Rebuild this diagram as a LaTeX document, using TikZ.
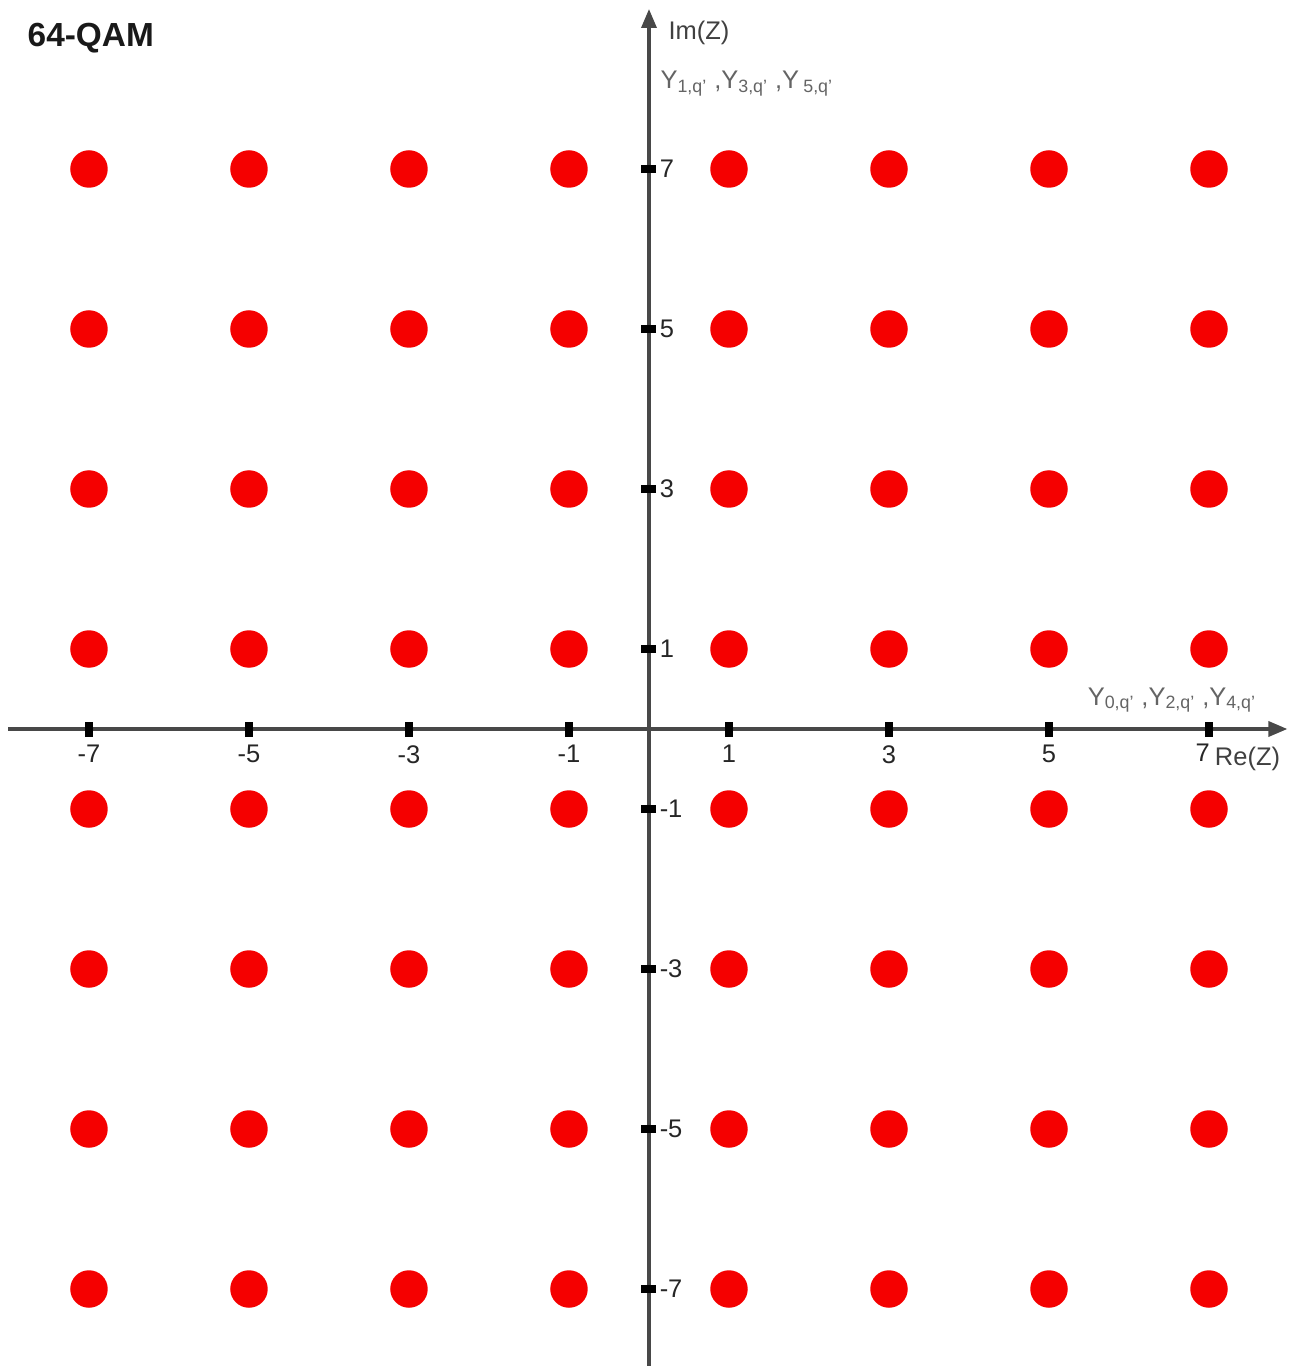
\documentclass[tikz,border=0pt]{standalone}
\usepackage{fontspec}
\setmainfont{Liberation Sans}
\usepackage{xcolor}
\usetikzlibrary{arrows.meta}
\definecolor{axisgray}{HTML}{484848}
\definecolor{labelgray}{HTML}{646464}
\definecolor{dotred}{HTML}{F50000}
\tikzset{
  axis/.style={draw=axisgray, line width=2pt, -{Triangle[length=0.38cm, width=0.30cm]}},
  dot/.style={circle, fill=dotred, draw=none, minimum size=0.75cm, inner sep=0pt},
  xtick/.style={rectangle, fill=black, minimum width=0.15cm, minimum height=0.3cm, inner sep=0pt},
  ytick/.style={rectangle, fill=black, minimum width=0.3cm, minimum height=0.15cm, inner sep=0pt},
  ticklabel/.style={font=\fontsize{14.5pt}{16pt}\selectfont, text=black!85, inner sep=0pt},
  axlabel/.style={font=\fontsize{14.5pt}{16pt}\selectfont, text=black!75, inner sep=0pt, anchor=base west},
  ylabel/.style={font=\fontsize{14.5pt}{16pt}\selectfont, text=labelgray, inner sep=0pt, anchor=base west},
}

\begin{document}
\begin{tikzpicture}[x=1.6cm, y=1.6cm]
  \useasboundingbox (-8.1125,-7.9625) rectangle (8.0,9.1125);

  % axes
  \coordinate (xl) at (-8.01,0);
  \coordinate (xr) at (7.98,0);
  \coordinate (yb) at (0,-7.9625);
  \coordinate (yt) at (0,9.0);
  \draw[axis] (xl) -- (xr);
  \draw[axis] (yb) -- (yt);

  % constellation points
  \foreach \i in {-7,-5,...,7}
    \foreach \q in {-7,-5,...,7}
      \node[dot] (p\i\q) at (\i,\q) {};

  % ticks and labels
  \foreach \v in {-7,-5,-3,-1,1,3,5} {
    \node[xtick] (tx\v) at (\v,0) {};
    \node[ticklabel, anchor=north] (lx\v) at (\v,-0.2) {\v};
  }
  \node[xtick] (tx7) at (7,0) {};
  \node[ticklabel, anchor=north] (lx7) at (6.92,-0.18) {7};
  \foreach \v in {-7,-5,...,7} {
    \node[ytick] (ty\v) at (0,\v) {};
    \node[ticklabel, anchor=west] (ly\v) at (0.13,\v) {\v};
  }

  % axis names
  \node[axlabel] (re) at (7.07,-0.46) {Re(Z)};
  \node[axlabel] (im) at (0.24,8.62) {Im(Z)};
  \node[ylabel] (yim) at (0.14,8.0) {Y\textsubscript{1,q'} ,Y\textsubscript{3,q'} ,Y\,\textsubscript{5,q'}};
  \node[ylabel] (yre) at (5.48,0.3) {Y\textsubscript{0,q'} ,Y\textsubscript{2,q'} ,Y\textsubscript{4,q'}};

  % title
  \node[font=\bfseries\fontsize{19pt}{22pt}\selectfont, text=black!90, inner sep=0pt, anchor=west] (title) at (-7.77,8.63) {64-QAM};
\end{tikzpicture}
\end{document}
